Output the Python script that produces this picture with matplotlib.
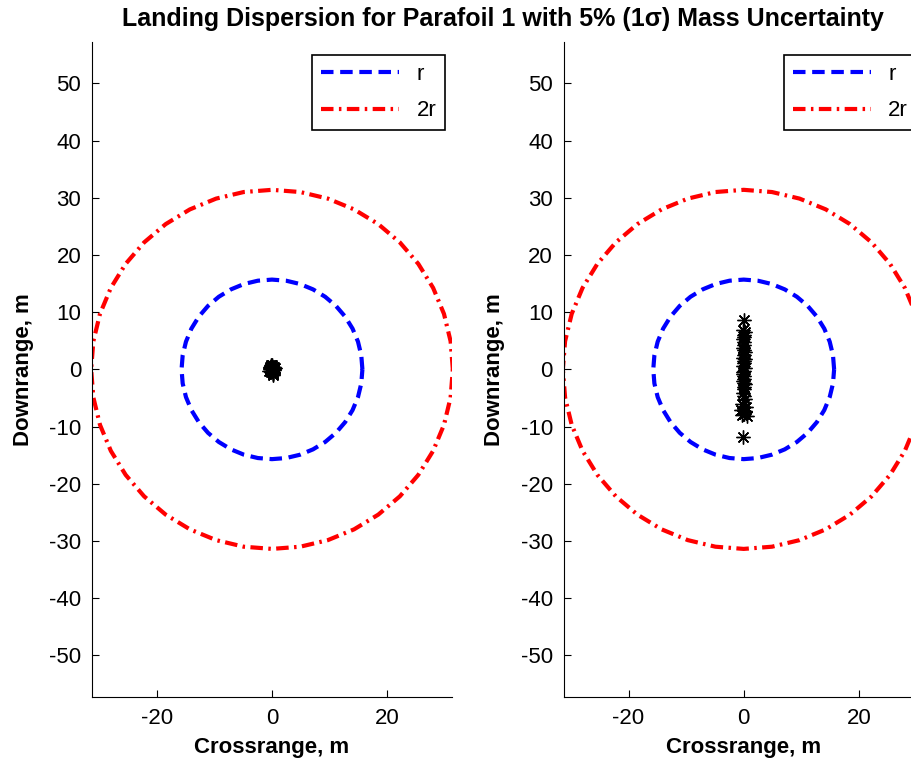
import numpy as np
import matplotlib.pyplot as plt
from matplotlib.lines import Line2D

# radius of the dispersion circles (m)
r = 15.7

# landing points, parafoil 1 (left: nominal mass, right: 5% mass uncertainty)
left_x = [0.1, -0.2, 0.3, -0.4, 0.2, 0.0, -0.1, 0.4, -0.3, 0.1, 0.2, -0.2, 0.0, 0.3, -0.1, 0.5, -0.5, 0.1, -0.3, 0.2]
left_y = [0.3, -0.2, 0.5, 0.1, -0.6, 0.7, -0.4, 0.0, 0.2, -0.8, 0.4, 0.6, -0.3, -0.1, 0.8, 0.2, -0.2, -1.0, 0.5, -0.5]

right_x = [0.1, -0.1, 0.2, 0.0, -0.2, 0.1, 0.0, -0.1, 0.2, 0.1, -0.2, 0.0, 0.1, -0.1, 0.2, 0.0,
           -0.1, 0.1, 0.0, -0.2, 0.2, 0.1, 0.0, -0.1, 0.1, 0.2, -0.3, 0.4, -0.4, 0.3, 0.0, 0.5,
           -0.2, 0.1, 0.0, 0.2, -0.1, 0.0, 0.3, -0.3]
right_y = [8.6, 6.9, 6.5, 6.0, 5.3, 4.8, 4.2, 3.7, 3.1, 2.6, 2.0, 1.5, 1.1, 0.6, 0.2, -0.3,
           -0.8, -1.2, -1.7, -2.1, -2.6, -3.0, -3.5, -4.1, -4.6, -5.2, -6.0, -6.6, -7.1, -7.5,
           -7.8, -8.1, -11.8, 5.6, 3.4, 1.8, -0.5, -2.4, -7.3, -8.0]

plt.rcParams['font.family'] = ['Liberation Sans', 'DejaVu Sans']
plt.rcParams['axes.unicode_minus'] = False

fig = plt.figure(figsize=(9.11, 7.7), dpi=100)
ax1 = fig.add_axes([0.1013, 0.0948, 0.3945, 0.851])
ax2 = fig.add_axes([0.6191, 0.0948, 0.3945, 0.851])

t = np.linspace(0, 2 * np.pi, 41)
for ax, px, py in [(ax1, left_x, left_y), (ax2, right_x, right_y)]:
    ax.plot(r * np.cos(t), r * np.sin(t), color='blue', ls=(0, (3, 1.6)), lw=3)
    ax.plot(2 * r * np.cos(t), 2 * r * np.sin(t), color='red', ls=(0, (3, 1.3, 0.6, 1.3)), lw=3)
    ax.plot(px, py, ls='none', marker=(8, 2, 0), color='black', ms=10, mew=1)
    ax.set_xlim(-31.2, 31.2)
    ax.set_ylim(-57.3, 57.3)
    ax.set_xticks([-20, 0, 20])
    ax.set_yticks(range(-50, 51, 10))
    ax.spines['top'].set_visible(False)
    ax.spines['right'].set_visible(False)
    ax.tick_params(direction='in', length=5, labelsize=16, pad=8)
    ax.set_xlabel('Crossrange, m', fontsize=16, fontweight='bold', labelpad=6)
    ax.set_ylabel('Downrange, m', fontsize=16, fontweight='bold', labelpad=11)
    handles = [Line2D([], [], color='blue', ls=(0, (3, 1.6)), lw=3),
               Line2D([], [], color='red', ls=(0, (3, 1.3, 0.6, 1.3)), lw=3)]
    leg = ax.legend(handles, ['r', '2r'], loc='upper right', bbox_to_anchor=(0.982, 0.98),
                    borderaxespad=0, fontsize=16, handlelength=3.5, fancybox=False,
                    edgecolor='black', framealpha=1, labelspacing=0.7)
    leg.get_frame().set_linewidth(1.2)

fig.text(0.552, 0.975, 'Landing Dispersion for Parafoil 1 with 5% (1σ) Mass Uncertainty',
         ha='center', va='center', fontsize=18, fontweight='bold')

fig.savefig('out.png', dpi=100)
